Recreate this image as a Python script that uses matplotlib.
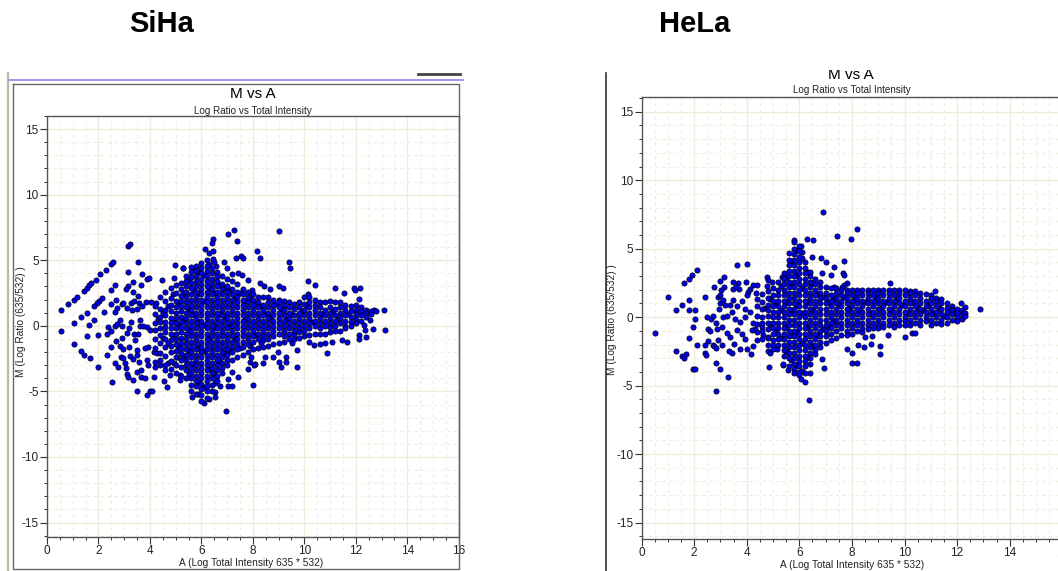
import matplotlib
matplotlib.use("Agg")
from matplotlib import pyplot as plt
from matplotlib.patches import Rectangle
from matplotlib.lines import Line2D
from matplotlib.ticker import MultipleLocator

plt.rcParams['font.family'] = ['Liberation Sans', 'DejaVu Sans']
plt.rcParams['axes.unicode_minus'] = False

W, H = 1058, 571
panel_names = ["SiHa", "HeLa"]
chart_title = "M vs A"
chart_subtitle = "Log Ratio vs Total Intensity"
x_label = "A (Log Total Intensity 635 * 532)"
y_label = "M (Log Ratio (635/532) )"
x_ticks = [0, 2, 4, 6, 8, 10, 12, 14, 16]
y_ticks = [-15, -10, -5, 0, 5, 10, 15]

# Scattered points
siha_a = [0.53, 0.53, 0.83, 1.04, 1.18, 1.45, 1.54, 1.65, 1.7, 1.89, 2.06, 2.28, 2.48, 2.55, 3.16, 3.24,
          3.54, 3.15, 3.68, 3.88, 3.96, 4.46, 4.98, 5.28, 4.94, 2.64, 2.48, 3.16, 3.07, 3.36, 3.66, 3.36,
          3.55, 2.13, 2.04, 1.93, 1.83, 1.54, 1.33, 1.04, 1.83, 1.62, 1.54, 1.97, 1.04, 1.33, 1.45, 1.69,
          1.97, 2.22, 2.48, 2.68, 2.73, 2.9, 2.97, 2.64, 3.1, 3.25, 3.38, 3.58, 3.29, 3.49, 3.68, 3.84,
          4.05, 4.23, 3.62, 2.84, 2.64, 2.9, 2.36, 2.48, 2.32, 2.73, 3.19, 3.12, 3.25, 3.38, 3.54, 3.62,
          3.75, 3.88, 4.0, 2.48, 2.68, 2.9, 2.84, 2.94, 3.19, 3.42, 3.49, 2.32, 2.87, 2.97, 3.23, 3.33,
          3.49, 3.58, 2.63, 2.75, 3.03, 3.06, 3.1, 3.16, 3.33, 3.49, 3.66, 3.66, 3.8, 2.54, 3.49, 3.9,
          4.0, 4.07, 4.16, 4.55, 4.65, 3.94, 3.81, 4.14, 4.27, 3.88, 4.2, 4.4, 3.94, 4.59, 4.79, 5.18,
          4.2, 4.72, 4.92, 5.05, 5.18,
          9.0, 7.25, 7.04, 7.38, 6.45, 6.41, 6.15, 6.28, 6.47, 8.16, 8.29, 7.55, 7.35, 7.6, 9.4, 9.45,
          5.28, 6.86, 6.99, 6.58, 6.47, 7.44, 7.57, 7.19, 7.81, 10.14, 10.43, 8.29, 8.42, 9.03, 9.17, 8.65,
          7.96, 11.2, 11.95, 11.98, 12.18, 10.13, 11.53, 12.11, 12.72, 13.09, 13.15, 12.67, 12.37, 12.41,
          12.11, 12.11, 12.31, 12.57, 11.66, 11.47, 11.08, 10.88, 10.82, 10.6, 10.36, 10.17, 9.71, 9.71,
          9.52, 9.29, 9.29, 9.03, 9.1, 8.96, 8.78, 8.48, 8.39, 8.09, 7.9, 8.03, 7.81, 7.92, 8.0, 7.41,
          7.19, 7.02, 7.02, 7.19, 6.73, 6.54, 6.54, 6.3, 6.95, 6.54, 6.11, 5.63, 5.88]
siha_m = [1.22, -0.36, 1.65, 1.98, 2.2, 2.67, 2.87, 3.13, 3.25, 3.51, 3.97, 4.28, 4.73, 4.86, 6.06, 6.24,
          4.86, 4.09, 3.97, 3.56, 3.64, 3.51, 4.61, 4.43, 3.66, 3.08, 2.72, 3.0, 2.8, 3.31, 3.1, 2.55,
          2.29, 2.11, 1.91, 1.73, 1.48, 0.99, 0.66, 0.2, 0.41, 0.1, -0.74, -0.66, -1.37, -1.91, -2.19, -2.47,
          -3.16, 1.09, 1.65, 1.98, 1.35, 1.65, 1.73, 1.09, 1.35, 1.73, 1.91, 1.73, 1.22, 1.27, 1.53, 1.85,
          1.85, 1.73, 0.46, 0.41, 0.0, 0.0, -0.1, -0.36, -0.59, 0.15, -0.15, -0.56, 0.33, -0.61, -0.61, 0.0,
          0.0, -0.05, -0.3, -1.58, -1.15, -0.94, -1.5, -1.78, -1.63, -1.07, -1.84, -2.21, -2.34, -2.47, -2.29, -2.55,
          -2.21, -2.73, -2.85, -3.1, -2.85, -3.23, -3.67, -3.87, -4.13, -3.49, -3.36, -3.92, -4.0, -4.25, -4.94, -5.3,
          -4.94, -4.99, -3.92, -4.18, -4.63, -1.58, -1.71, -1.96, -2.09, -2.6, -2.72, -2.98, -2.98, -3.36, -3.74, -4.12,
          -3.1, -2.85, -2.85, -2.34, -3.74,
          7.2, 7.33, 7.0, 6.44, 6.64, 6.31, 5.85, 5.55, 5.67, 5.67, 5.16, 5.29, 5.16, 5.16, 4.86, 4.4,
          4.4, 4.86, 4.4, 4.53, 5.09, 4.02, 3.89, 3.97, 3.46, 3.4, 3.15, 3.26, 3.0, 3.0, 2.92, 2.82,
          2.75, 2.92, 2.87, 2.75, 2.87, 2.42, 2.49, 2.03, 1.22, 1.22, -0.3, -0.23, -0.31, -0.82,
          -0.69, -1.0, 0.07, 0.46, -1.2, -1.07, -1.2, -2.09, -1.33, -1.38, -1.45, -1.2, -1.83, -3.16,
          -1.33, -2.34, -2.72, -2.72, -3.1, -1.96, -2.39, -2.34, -2.8, -2.9, -2.72, -2.98, -3.31, -2.39, -4.5, -3.87,
          -3.54, -4.07, -4.56, -4.56, -4.56, -5.01, -5.45, -5.57, -6.52, -4.38, -5.85, -5.4, -5.2]

# Extra points between the columns where the SiHa cloud is solid
siha_fill_a = [4.3, 4.5, 4.5, 4.7, 4.7, 4.9, 4.9, 4.9, 5.1, 5.1, 5.1, 5.3, 5.3, 5.3, 5.5, 5.5, 5.5, 5.5, 5.5, 5.7,
               5.7, 5.7, 5.7, 5.9, 5.9, 5.9, 5.9, 5.9, 6.1, 6.1, 6.1, 6.1, 6.1, 6.3, 6.3, 6.3, 6.3, 6.5, 6.5, 6.5,
               6.5, 6.7, 6.7, 6.7, 6.9, 6.9, 6.9, 7.1, 7.1, 7.1, 7.3, 7.3, 7.5, 7.5, 7.7, 7.7, 7.9, 7.9, 8.1, 8.1,
               8.3, 8.3, 8.5, 8.7, 8.9, 9.1, 9.3, 9.5, 9.9, 10.1, 10.3, 10.7, 11.1, 11.3, 11.7]
siha_fill_m = [0.5, 1.0, -0.9, 1.5, -1.3, 2.4, 0.4, -0.8, 1.7, 0.0, -1.6, 2.5, 0.5, -2.3, 3.5, 1.3, -0.3, -1.9, -3.7, 4.3,
               2.7, 0.9, -2.9, 4.1, 2.5, 0.3, -1.7, -4.3, 3.9, 1.9, 0.1, -1.9, -4.7, 4.7, 2.9, -0.9, -3.3, 4.9, 2.5, -0.1,
               -3.7, 3.1, 0.9, -2.7, 2.9, 0.7, -2.1, 2.7, 0.1, -1.9, 2.1, -0.9, 2.5, -1.7, 1.9, 0.5, 2.1, -1.5, 1.7, -0.7,
               1.5, -1.3, 0.9, 0.7, 1.7, 1.3, 0.5, 0.9, 1.1, 1.5, 0.3, 0.9, 1.1, 0.5, 0.9]

# Dense part of the SiHa cloud, one list of M per A column
siha_core_a = [4.2, 4.4, 4.6, 4.8, 5.0, 5.2, 5.4, 5.6, 5.8, 6.0, 6.2, 6.4, 6.6, 6.8, 7.0, 7.2, 7.4, 7.6, 7.8, 8.0,
               8.2, 8.4, 8.6, 8.8, 9.0, 9.2, 9.4, 9.6, 9.8, 10.0, 10.2, 10.4, 10.6, 10.8, 11.0, 11.2, 11.4, 11.6,
               11.8, 12.0, 12.2, 12.4, 12.6, 12.8]
siha_core_m = [
    [1.5, 0.9, 0.2, -0.3, -1.0, -1.7],
    [2.2, 1.3, 0.7, 0.3, -0.2, -0.7, -1.3, -2.1, -2.6],
    [2.6, 1.9, 1.2, 0.8, 0.3, -0.1, -0.5, -1.0, -1.6, -2.3, -3.0],
    [2.9, 2.1, 1.6, 1.1, 0.6, 0.2, -0.2, -0.6, -1.1, -1.5, -2.0, -2.7, -3.3],
    [3.1, 2.5, 1.9, 1.4, 1.0, 0.6, 0.2, -0.2, -0.6, -1.0, -1.4, -1.9, -2.4, -3.0, -3.6],
    [3.3, 2.8, 2.3, 1.9, 1.5, 1.1, 0.7, 0.3, -0.1, -0.5, -0.9, -1.3, -1.7, -2.1, -2.6, -3.1, -3.8],
    [3.8, 3.4, 3.0, 2.6, 2.2, 1.8, 1.4, 1.0, 0.6, 0.2, -0.2, -0.6, -1.0, -1.4, -1.8, -2.2, -2.6, -3.0, -3.4, -4.0],
    [4.5, 4.1, 3.7, 3.3, 2.9, 2.4, 2.0, 1.6, 1.2, 0.8, 0.4, 0.0, -0.4, -0.8, -1.2, -1.6, -2.0, -2.4, -2.8, -3.2, -3.6, -4.0, -4.5, -5.0],
    [4.6, 4.2, 3.8, 3.4, 3.0, 2.6, 2.2, 1.8, 1.4, 1.0, 0.6, 0.2, -0.2, -0.6, -1.0, -1.4, -1.8, -2.2, -2.6, -3.0, -3.4, -3.8, -4.2, -4.6, -5.2],
    [4.8, 4.4, 4.0, 3.6, 3.2, 2.8, 2.4, 2.0, 1.6, 1.2, 0.8, 0.4, 0.0, -0.4, -0.8, -1.2, -1.6, -2.0, -2.4, -2.8, -3.2, -3.6, -4.0, -4.4, -4.8, -5.3, -5.7],
    [5.0, 4.6, 4.2, 3.8, 3.4, 3.0, 2.6, 2.2, 1.8, 1.4, 1.0, 0.6, 0.2, -0.2, -0.6, -1.0, -1.4, -1.8, -2.2, -2.6, -3.0, -3.4, -3.8, -4.2, -4.6, -5.0, -5.5],
    [4.4, 4.0, 3.6, 3.2, 2.8, 2.4, 2.0, 1.6, 1.2, 0.8, 0.4, 0.0, -0.4, -0.8, -1.2, -1.6, -2.0, -2.4, -2.8, -3.2, -3.6, -4.0, -4.5, -5.0],
    [4.1, 3.8, 3.4, 3.0, 2.6, 2.2, 1.8, 1.4, 1.0, 0.6, 0.2, -0.2, -0.6, -1.0, -1.4, -1.8, -2.2, -2.6, -3.0, -3.4, -3.8, -4.2],
    [3.8, 3.2, 2.8, 2.4, 2.0, 1.6, 1.2, 0.8, 0.4, 0.0, -0.4, -0.8, -1.2, -1.6, -2.0, -2.4, -2.8, -3.2, -3.6],
    [3.6, 3.0, 2.6, 2.2, 1.8, 1.4, 1.0, 0.6, 0.2, -0.2, -0.6, -1.0, -1.4, -1.8, -2.2, -2.6, -3.0],
    [3.4, 2.8, 2.4, 2.0, 1.6, 1.2, 0.8, 0.4, 0.0, -0.4, -0.8, -1.2, -1.6, -2.0, -2.6],
    [3.2, 2.6, 2.2, 1.8, 1.4, 1.0, 0.6, 0.2, -0.2, -0.6, -1.0, -1.4, -1.8, -2.4],
    [2.8, 2.4, 2.0, 1.6, 1.2, 0.8, 0.4, 0.0, -0.4, -0.8, -1.2, -1.6, -2.2],
    [2.6, 2.2, 1.8, 1.4, 1.0, 0.6, 0.2, -0.2, -0.6, -1.0, -1.4, -2.0],
    [2.4, 2.0, 1.6, 1.2, 0.8, 0.4, 0.0, -0.4, -0.8, -1.2, -1.8],
    [2.2, 1.8, 1.4, 1.0, 0.6, 0.2, -0.2, -0.6, -1.0, -1.7],
    [2.2, 1.6, 1.2, 0.8, 0.4, 0.0, -0.4, -0.8, -1.1, -1.6],
    [2.2, 1.8, 1.4, 1.0, 0.6, 0.2, -0.2, -0.6, -1.0, -1.5],
    [2.0, 1.6, 1.2, 0.8, 0.4, 0.0, -0.4, -0.8, -1.4],
    [2.0, 1.8, 1.4, 1.0, 0.6, 0.2, -0.2, -0.6, -1.3],
    [1.9, 1.6, 1.2, 0.8, 0.4, 0.0, -0.4, -0.8, -1.2],
    [1.8, 1.4, 1.0, 0.6, 0.2, -0.2, -0.6, -1.0],
    [1.7, 1.3, 0.8, 0.4, 0.0, -0.4, -0.7, -1.0],
    [1.8, 1.4, 1.0, 0.6, 0.2, -0.2, -0.5, -0.9],
    [2.2, 1.7, 1.2, 0.8, 0.4, 0.0, -0.4, -0.8],
    [2.2, 1.8, 1.4, 1.0, 0.6, 0.2, -0.2, -0.7],
    [2.0, 1.6, 1.2, 0.8, 0.4, 0.0, -0.6],
    [1.8, 1.4, 1.0, 0.6, 0.2, -0.2, -0.6],
    [1.8, 1.2, 0.8, 0.4, 0.0, -0.6],
    [1.9, 1.4, 1.0, 0.6, 0.2, -0.1, -0.5],
    [1.8, 1.3, 0.8, 0.4, 0.0, -0.4],
    [1.8, 1.4, 1.0, 0.6, 0.2, -0.4],
    [1.6, 1.2, 0.8, 0.4, 0.0, -0.2],
    [1.5, 1.1, 0.7, 0.3, 0.0],
    [1.6, 1.2, 0.9, 0.5, 0.2],
    [1.4, 1.1, 0.8, 0.4],
    [1.2, 1.0, 0.7],
    [1.1, 0.9],
    [1.1],
]

# Scattered points
hela_a = [0.51, 1.02, 1.31, 1.53, 1.62, 1.82, 1.91, 2.11, 1.82, 1.82, 2.02, 2.03, 1.97, 1.82, 2.11, 1.31,
          1.53, 1.68, 1.6, 1.97, 2.02, 2.41, 2.48, 2.63, 2.71, 2.54, 2.6, 2.41, 2.53, 2.71, 2.76, 2.82,
          2.41, 2.46, 2.82, 3.0, 3.29, 2.82, 2.77, 2.98, 3.15, 3.62, 4.0, 3.02, 3.14, 2.92, 2.98, 3.49,
          3.66, 3.49, 3.71, 3.58, 3.97, 4.25, 4.38, 4.13, 4.06, 4.76, 4.82, 4.95, 4.76, 5.33, 2.98, 2.96,
          3.11, 3.18, 3.37, 3.49, 3.43, 3.62, 3.81, 4.0, 4.35, 3.94, 4.13, 2.83, 2.88, 3.05, 3.11, 3.26,
          3.55, 3.75, 3.94, 4.25, 4.32, 4.57, 3.24, 3.36, 3.62, 3.81, 3.94, 4.19, 4.38, 4.63, 4.82, 2.92,
          3.07, 3.53, 3.75, 4.0, 4.15, 4.25, 3.34, 3.43, 4.8, 4.89, 4.86, 5.01, 5.14, 5.37, 5.56,
          6.9, 8.2, 7.97, 7.44, 6.28, 6.51, 5.8, 6.06, 6.11, 6.49, 6.82, 7.02, 7.69, 7.31, 7.2, 7.65,
          7.7, 6.85, 7.81, 7.7, 7.61, 7.32, 9.44, 11.16, 12.15, 12.87, 12.3, 10.02, 10.28, 10.4, 9.39, 9.05,
          9.08, 8.02, 8.02, 8.2, 8.73, 8.46, 8.25, 7.82, 6.93, 6.88, 6.4, 6.22, 6.07, 6.37, 5.37, 8.5, 8.76]
hela_m = [-1.12, 1.46, 0.51, 0.9, 2.48, 2.82, 3.11, 3.43, 1.22, 0.51, 0.51, -0.1, -0.73, -1.51, -2.0, -2.5,
          -2.82, -2.7, -2.99, -3.75, -3.82, 1.46, 0.0, -0.17, 0.07, -0.88, -1.0, -2.0, -1.75, -2.0, -2.12, -2.24,
          -2.6, -2.75, -3.38, -3.77, -4.38, -5.4, 2.21, 2.65, 2.92, 3.84, 3.87, 1.97, 2.17, 1.48, 1.6, 2.58,
          2.46, 2.09, 2.09, 2.21, 2.58, 2.34, 2.36, 2.09, 1.85, 2.9, 2.75, 2.58, 2.29, 2.94, 1.05, 0.63,
          1.24, 0.88, 0.88, 1.24, 0.39, 0.8, 1.19, 1.6, 1.73, 0.63, 0.39, -0.46, -0.83, -0.71, 0.0, 0.07,
          -0.1, -0.34, 0.02, -0.46, -0.83, -0.71, -1.19, -1.44, -0.95, -1.24, -1.56, -0.95, -1.68, -1.31, -1.44, -1.68,
          -2.04, -1.95, -2.36, -2.36, -2.7, -2.12, -2.46, -2.65, -2.46, -2.6, -3.63, -2.04, -2.36, -3.46, -3.87,
          7.69, 6.42, 5.74, 5.94, 5.74, 5.62, 5.62, 5.18, 4.77, 4.36, 4.31, 4.04, 4.11, 3.67, 3.11, 3.26,
          3.09, 3.19, 2.46, 2.34, 2.21, 2.21, 2.48, 1.92, 1.07, 0.63, 0.75, -1.44, -1.19, -1.12, -1.31, -2.12,
          -2.7, -2.65, -3.38, -3.33, -1.95, -2.17, -2.04, -2.36, -3.7, -3.09, -4.09, -4.72, -4.48, -6.03, -3.45, -1.44, -1.36]

# Extra points between the columns where the HeLa cloud is solid
hela_fill_a = [4.7, 4.9, 4.9, 5.1, 5.1, 5.3, 5.3, 5.3, 5.5, 5.5, 5.5, 5.5, 5.7, 5.7, 5.7, 5.7, 5.7, 5.9, 5.9, 5.9,
               5.9, 5.9, 6.1, 6.1, 6.1, 6.1, 6.1, 6.3, 6.3, 6.3, 6.3, 6.5, 6.5, 6.5, 6.7, 6.7, 6.9, 6.9, 7.1, 7.1,
               7.3, 7.3, 7.5, 7.7, 7.9, 8.1, 8.3, 8.5, 8.7, 8.9, 9.1, 9.3, 9.5, 9.7, 9.9, 10.1, 10.3, 10.5, 10.7, 10.9,
               11.1, 11.3, 11.5, 11.7, 11.9]
hela_fill_m = [0.7, 1.3, -0.5, 1.1, -1.1, 2.3, 0.5, -1.5, 2.9, 1.1, -0.7, -2.5, 4.1, 2.3, 0.5, -1.3, -3.1, 4.9, 3.1, 0.9,
               -1.1, -3.5, 4.3, 2.1, 0.3, -1.9, -3.9, 3.3, 1.1, -0.7, -2.9, 2.5, 0.5, -2.1, 1.7, -1.3, 1.5, -0.9, 1.1, -0.7,
               1.3, -0.3, 0.9, 1.5, 0.7, 1.3, 0.5, 1.1, 0.3, 1.5, 0.7, 1.1, 0.5, 1.3, 0.9, 0.3, 1.1, 0.7, 0.5, 0.9,
               0.3, 0.7, 0.1, 0.5, 0.3]

# Dense part of the HeLa cloud, one list of M per A column
hela_core_a = [4.4, 4.6, 4.8, 5.0, 5.2, 5.4, 5.6, 5.8, 6.0, 6.2, 6.4, 6.6, 6.8, 7.0, 7.2, 7.4, 7.6, 7.8, 8.0, 8.2,
               8.4, 8.6, 8.8, 9.0, 9.2, 9.4, 9.6, 9.8, 10.0, 10.2, 10.4, 10.6, 10.8, 11.0, 11.2, 11.4, 11.6,
               11.8, 12.0, 12.2, 12.3]
hela_core_m = [
    [1.3, 0.8, 0.1, -0.5, -1.1],
    [1.7, 1.1, 0.6, 0.0, -0.4, -1.0, -1.6],
    [1.9, 1.4, 0.9, 0.5, 0.1, -0.4, -0.9, -1.5, -2.0],
    [2.1, 1.6, 1.2, 0.8, 0.4, 0.0, -0.4, -0.8, -1.2, -1.7, -2.3],
    [2.6, 2.0, 1.6, 1.2, 0.8, 0.4, 0.0, -0.4, -0.8, -1.2, -1.6, -2.0],
    [3.2, 2.8, 2.4, 2.0, 1.6, 1.2, 0.8, 0.4, 0.0, -0.4, -0.8, -1.2, -1.6, -2.0, -2.4, -2.8],
    [4.7, 4.2, 3.8, 3.4, 3.0, 2.6, 2.2, 1.8, 1.4, 1.0, 0.6, 0.2, -0.2, -0.6, -1.0, -1.4, -1.8, -2.2, -2.6, -3.0, -3.6],
    [5.5, 5.0, 4.6, 4.2, 3.8, 3.4, 3.0, 2.6, 2.2, 1.8, 1.4, 1.0, 0.6, 0.2, -0.2, -0.6, -1.0, -1.4, -1.8, -2.2, -2.6, -3.0, -3.4, -3.8, -4.1],
    [5.2, 4.8, 4.4, 4.0, 3.6, 3.2, 2.8, 2.4, 2.0, 1.6, 1.2, 0.8, 0.4, 0.0, -0.4, -0.8, -1.2, -1.6, -2.0, -2.4, -2.8, -3.2, -3.6, -4.0, -4.2],
    [4.0, 3.6, 3.2, 2.8, 2.4, 2.0, 1.6, 1.2, 0.8, 0.4, 0.0, -0.4, -0.8, -1.2, -1.6, -2.0, -2.4, -2.8, -3.2, -3.6, -4.1],
    [3.3, 3.0, 2.6, 2.2, 1.8, 1.4, 1.0, 0.6, 0.2, -0.2, -0.6, -1.0, -1.4, -1.8, -2.2, -2.6, -3.0, -3.4],
    [2.8, 2.4, 2.0, 1.6, 1.2, 0.8, 0.4, 0.0, -0.4, -0.8, -1.2, -1.6, -2.0, -2.4, -2.7],
    [2.6, 2.2, 1.8, 1.4, 1.0, 0.6, 0.2, -0.2, -0.6, -1.0, -1.4, -1.8, -2.2],
    [2.2, 1.8, 1.4, 1.0, 0.6, 0.2, -0.2, -0.6, -1.0, -1.4, -1.9],
    [2.1, 1.6, 1.2, 0.8, 0.4, 0.0, -0.4, -0.8, -1.2, -1.7],
    [2.1, 1.8, 1.4, 1.0, 0.6, 0.2, -0.2, -0.6, -1.0, -1.5],
    [2.0, 1.6, 1.2, 0.8, 0.4, 0.0, -0.4, -0.8, -1.3],
    [2.0, 1.8, 1.4, 1.0, 0.6, 0.2, -0.2, -0.6, -1.0, -1.3],
    [2.0, 1.6, 1.2, 0.8, 0.4, 0.0, -0.4, -0.8, -1.2],
    [2.0, 1.8, 1.4, 1.0, 0.6, 0.2, -0.2, -0.6, -1.0],
    [2.0, 1.6, 1.2, 0.8, 0.4, 0.0, -0.4, -0.8, -1.1],
    [2.0, 1.8, 1.4, 1.0, 0.6, 0.2, -0.2, -0.6, -0.9],
    [2.0, 1.6, 1.2, 0.8, 0.4, 0.0, -0.4, -0.8],
    [2.0, 1.8, 1.4, 1.0, 0.6, 0.2, -0.2, -0.6, -0.8],
    [2.0, 1.6, 1.2, 0.8, 0.4, 0.0, -0.4, -0.7],
    [2.0, 1.8, 1.4, 1.0, 0.6, 0.2, -0.2, -0.6],
    [2.0, 1.6, 1.2, 0.8, 0.4, 0.0, -0.4, -0.7],
    [2.0, 1.8, 1.4, 1.0, 0.6, 0.2, -0.2, -0.6],
    [2.0, 1.6, 1.2, 0.8, 0.4, 0.0, -0.3, -0.6],
    [1.9, 1.8, 1.4, 1.0, 0.6, 0.2, -0.2, -0.6],
    [1.9, 1.6, 1.2, 0.8, 0.4, 0.0, -0.4],
    [1.8, 1.4, 1.0, 0.6, 0.2, -0.2, -0.6],
    [1.7, 1.2, 0.8, 0.4, 0.0, -0.3],
    [1.6, 1.4, 1.0, 0.6, 0.2, -0.2, -0.6],
    [1.4, 1.2, 0.8, 0.4, 0.0, -0.4],
    [1.3, 1.0, 0.6, 0.2, -0.2, -0.5],
    [1.0, 0.7, 0.4, 0.0, -0.4],
    [0.8, 0.5, 0.2, -0.2],
    [0.6, 0.3, 0.0, -0.3],
    [0.5, 0.2, -0.1],
    [0.3, 0.1],
]

fig = plt.figure(figsize=(W / 100, H / 100), dpi=100)


def px_axes(left, top, right, bottom):
    return fig.add_axes([left / W, 1 - bottom / H, (right - left) / W, (bottom - top) / H])


def fig_line(xs, ys, color, lw):
    fig.add_artist(Line2D([x / W for x in xs], [1 - y / H for y in ys], color=color, linewidth=lw))


def draw_panel(ax, a, m, fill_a, fill_m, core_a, core_m, ylim, right_spine):
    ax.set_xlim(0, 16)
    ax.set_ylim(*ylim)
    ax.xaxis.set_minor_locator(MultipleLocator(0.5))
    ax.yaxis.set_minor_locator(MultipleLocator(1))
    ax.set_xticks(x_ticks)
    ax.set_yticks(y_ticks)
    ax.grid(which="major", color="#efecdc", linewidth=1.0)
    ax.grid(which="minor", color="#f0edde", linewidth=0.8, linestyle=(0, (3, 3)))
    ax.set_axisbelow(True)
    ax.tick_params(which="major", length=5, width=0.8, color="#333333", labelsize=8.5, pad=1, labelcolor="#222222")
    ax.tick_params(which="minor", length=2.5, width=0.7, color="#333333")
    for spine in ax.spines.values():
        spine.set_color("#555555")
        spine.set_linewidth(1.0)
    ax.spines["right"].set_visible(right_spine)
    xs = list(a) + list(fill_a)
    ys = list(m) + list(fill_m)
    for col, vals in zip(core_a, core_m):
        xs += [col] * len(vals)
        ys += vals
    ax.scatter(xs, ys, s=14, c="#0000ee", edgecolors="#000022", linewidths=0.55, zorder=3)


ax1 = px_axes(47, 116, 458.7, 537)
draw_panel(ax1, siha_a, siha_m, siha_fill_a, siha_fill_m, siha_core_a, siha_core_m, (-16.1, 16.0), True)
ax2 = px_axes(641.5, 96.7, 1062.3, 539)
draw_panel(ax2, hela_a, hela_m, hela_fill_a, hela_fill_m, hela_core_a, hela_core_m, (-16.2, 16.1), False)

# Panel names
fig.text(162 / W, 1 - 24 / H, panel_names[0], fontsize=21, fontweight="bold", ha="center", va="center")
fig.text(695 / W, 1 - 24 / H, panel_names[1], fontsize=21, fontweight="bold", ha="center", va="center")

# Chart titles and axis labels as in the screen captures
fig.text(253 / W, 1 - 94 / H, chart_title, fontsize=11, ha="center", va="center")
fig.text(252.5 / W, 1 - 110.5 / H, chart_subtitle, fontsize=7.1, ha="center", va="center", color="#222222")
fig.text(251 / W, 1 - 563 / H, x_label, fontsize=7.3, ha="center", va="center", color="#222222")
fig.text(21 / W, 1 - 322 / H, y_label, fontsize=7.3, rotation=90, ha="center", va="center", color="#222222")

# The HeLa capture cuts the top of its title off
hela_title = fig.text(851 / W, 1 - 75 / H, chart_title, fontsize=11, ha="center", va="center")
hela_title.set_clip_on(True)
hela_title.set_clip_path(Rectangle((0, 0), 1, 1 - 70 / H, transform=fig.transFigure))
fig.text(851.5 / W, 1 - 90.5 / H, chart_subtitle, fontsize=7.1, ha="center", va="center", color="#222222")
fig.text(852 / W, 1 - 565 / H, x_label, fontsize=7.3, ha="center", va="center", color="#222222")
fig.text(612 / W, 1 - 320 / H, y_label, fontsize=7.3, rotation=90, ha="center", va="center", color="#222222")

# Window borders left from the screenshots
fig_line([8, 8], [73, 571], "#bdb8a4", 1.6)
fig_line([9, 463], [80, 80], "#9999ee", 1.4)
fig_line([13, 459, 459, 13, 13], [84, 84, 569, 569, 84], "#666666", 1.0)
fig_line([418, 460], [74, 74], "#444444", 2.0)
fig_line([606, 606], [73, 571], "#333333", 1.2)

fig.savefig("out.png", dpi=100)
